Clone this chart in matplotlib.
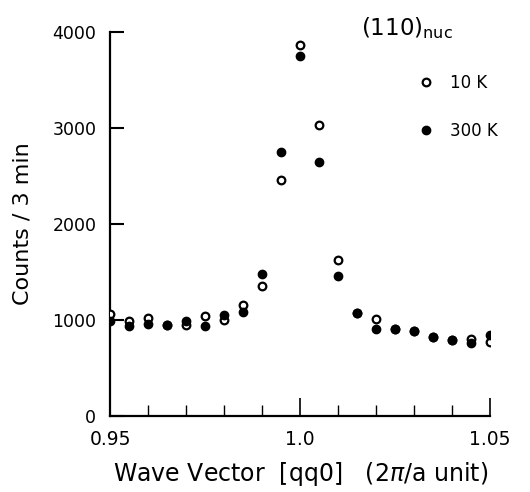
import numpy as np
import matplotlib
matplotlib.use("Agg")
import matplotlib.pyplot as plt

# wave vector positions (2pi/a units)
q = [0.950, 0.955, 0.960, 0.965, 0.970, 0.975, 0.980, 0.985, 0.990, 0.995,
     1.000, 1.005, 1.010, 1.015, 1.020, 1.025, 1.030, 1.035, 1.040, 1.045, 1.050]

# counts / 3 min
counts_10K = [1060, 990, 1020, 950, 950, 1040, 1000, 1150, 1355, 2460,
              3860, 3030, 1620, 1075, 1005, 900, 885, 825, 785, 800, 765]
counts_300K = [990, 940, 960, 950, 990, 940, 1050, 1085, 1480, 2750,
               3745, 2645, 1455, 1075, 905, 900, 885, 825, 785, 760, 845]

yticks = [0, 1000, 2000, 3000, 4000]
xticks_major = [0.95, 1.0, 1.05]
xtick_labels = ["0.95", "1.0", "1.05"]

plt.rcParams['font.family'] = ['DejaVu Sans']

fig = plt.figure(figsize=(5.3, 4.92), dpi=100)
ax = fig.add_axes([0.208, 0.155, 0.717, 0.78])

ax.plot(q, counts_10K, 'o', mfc='white', mec='black', mew=1.6, ms=5.5, label='10 K', zorder=3)
ax.plot(q, counts_300K, 'o', mfc='black', mec='black', ms=6, label='300 K', zorder=4)

ax.set_xlim(0.95, 1.05)
ax.set_ylim(0, 4000)

ax.spines['top'].set_visible(False)
ax.spines['right'].set_visible(False)
ax.spines['left'].set_linewidth(1.6)
ax.spines['bottom'].set_linewidth(1.6)

ax.set_yticks(yticks)
ax.set_yticklabels([str(v) for v in yticks], fontsize=12.5)
ax.set_xticks(xticks_major)
ax.set_xticklabels(xtick_labels, fontsize=13.5)
ax.set_xticks(np.arange(0.95, 1.0501, 0.01), minor=True)
ax.tick_params(axis='y', direction='in', length=10, width=1.5, pad=10)
ax.tick_params(axis='x', which='major', direction='in', length=13, width=1.2, pad=10)
ax.tick_params(axis='x', which='minor', direction='in', length=8, width=1.0)

ax.set_xlabel(r'Wave Vector  [qq0]   (2$\pi$/a unit)', fontsize=17, labelpad=8)
ax.set_ylabel('Counts / 3 min', fontsize=16, labelpad=14)

ax.text(0.66, 1.01, r'(110)$_{\mathrm{nuc}}$', transform=ax.transAxes, fontsize=16.5, va='center')

ax.legend(loc='upper left', bbox_to_anchor=(0.81, 0.89), frameon=False, fontsize=12,
          labelspacing=1.8, handlelength=1.0, handletextpad=0.9,
          borderpad=0, borderaxespad=0)

fig.savefig('out.png', dpi=100)
